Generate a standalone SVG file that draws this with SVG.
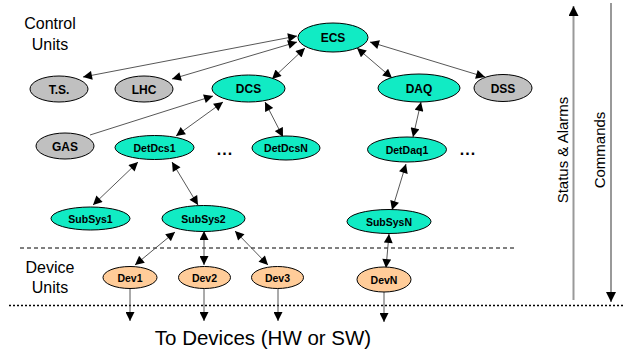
<svg xmlns="http://www.w3.org/2000/svg" width="623" height="352" viewBox="0 0 623 352">
<style>
.n ellipse{stroke:#000;stroke-width:1}
.cy ellipse{fill:#11EBC4}
.gr ellipse{fill:#C0C0C0}
.or ellipse{fill:#FFCC99}
.n text{font-family:"Liberation Sans",Arial,sans-serif;font-weight:bold;text-anchor:middle;fill:#000}
.big text{font-size:12px}
.sm text{font-size:10.5px}
.lbl{font-family:"Liberation Sans",Arial,sans-serif;fill:#000}
.c line{stroke:#444;stroke-width:0.9;fill:none}
.dbl{marker-start:url(#ah);marker-end:url(#ah)}
.one{marker-end:url(#ah)}
</style>
<defs>
<marker id="ah" viewBox="0 0 10 10" refX="10" refY="5" markerWidth="10" markerHeight="9" markerUnits="userSpaceOnUse" orient="auto-start-reverse">
<path d="M0,0 L10,5 L0,10 z" fill="#000"/>
</marker>
<marker id="ah2" viewBox="0 0 10 10" refX="10" refY="5" markerWidth="10" markerHeight="10" markerUnits="userSpaceOnUse" orient="auto">
<path d="M0,0 L10,5 L0,10 z" fill="#000"/>
</marker>
</defs>

<rect width="623" height="352" fill="#fff"/>

<g id="separators">
<line x1="20" y1="248" x2="517" y2="248" stroke="#000" stroke-width="1" stroke-dasharray="4,3"/>
<line x1="9" y1="305.5" x2="623" y2="305.5" stroke="#000" stroke-width="1.5" stroke-dasharray="2,2"/>
<line x1="573.5" y1="300" x2="573.5" y2="6" stroke="#999" stroke-width="2" marker-end="url(#ah2)"/>
<line x1="611" y1="3" x2="611" y2="302" stroke="#999" stroke-width="2" marker-end="url(#ah2)"/>
</g>

<g id="labels">
<text class="lbl" x="50" y="29" font-size="16" text-anchor="middle">Control</text>
<text class="lbl" x="50" y="50" font-size="16" text-anchor="middle">Units</text>
<text class="lbl" x="50" y="273" font-size="16" text-anchor="middle">Device</text>
<text class="lbl" x="50" y="293" font-size="16" text-anchor="middle">Units</text>
<text class="lbl" x="263" y="345" font-size="20.5" text-anchor="middle">To Devices (HW or SW)</text>
<text class="lbl" font-size="15" text-anchor="middle" transform="translate(568,150) rotate(-90)">Status &amp; Alarms</text>
<text class="lbl" font-size="15" text-anchor="middle" transform="translate(605,150) rotate(-90)">Commands</text>
<text class="lbl" x="225" y="155" font-size="16" font-weight="bold" text-anchor="middle" letter-spacing="1">...</text>
<text class="lbl" x="468" y="155" font-size="16" font-weight="bold" text-anchor="middle" letter-spacing="1">...</text>
</g>

<g id="connectors" class="c">
<line class="dbl" x1="297" y1="36" x2="83" y2="77"/>
<line class="dbl" x1="297" y1="42" x2="172" y2="79"/>
<line class="dbl" x1="305" y1="48" x2="272" y2="79"/>
<line class="one" x1="90" y1="135" x2="213" y2="96"/>
<line class="dbl" x1="223" y1="102" x2="176" y2="136"/>
<line class="dbl" x1="265" y1="102" x2="283" y2="137"/>
<line class="dbl" x1="357" y1="48" x2="392" y2="78"/>
<line class="dbl" x1="370" y1="42" x2="485" y2="77"/>
<line class="dbl" x1="421" y1="102" x2="413" y2="137"/>
<line class="dbl" x1="138" y1="162" x2="93" y2="205"/>
<line class="dbl" x1="172" y1="162" x2="198" y2="205"/>
<line class="dbl" x1="406" y1="164" x2="392" y2="210"/>
<line class="dbl" x1="175" y1="232" x2="135" y2="265"/>
<line class="dbl" x1="204" y1="231" x2="204" y2="265"/>
<line class="dbl" x1="235" y1="231" x2="268" y2="265"/>
<line class="dbl" x1="389" y1="234" x2="386" y2="268"/>
<line class="one" x1="130" y1="288" x2="130" y2="321"/>
<line class="one" x1="204" y1="288" x2="204" y2="321"/>
<line class="one" x1="278" y1="288" x2="278" y2="321"/>
<line class="one" x1="384" y1="292" x2="384" y2="322"/>
</g>

<g id="ECS" class="n cy big"><ellipse cx="333" cy="37.5" rx="35" ry="14.5"/><text x="333" y="42">ECS</text></g>
<g id="TS" class="n gr big"><ellipse cx="59" cy="89" rx="29" ry="13"/><text x="59" y="93.5">T.S.</text></g>
<g id="LHC" class="n gr big"><ellipse cx="144" cy="89" rx="29" ry="13"/><text x="144" y="93.5">LHC</text></g>
<g id="DCS" class="n cy big"><ellipse cx="248.5" cy="88.5" rx="36.5" ry="13.5"/><text x="248.5" y="93">DCS</text></g>
<g id="DAQ" class="n cy big"><ellipse cx="419" cy="88" rx="41" ry="14"/><text x="419" y="92.5">DAQ</text></g>
<g id="DSS" class="n gr big"><ellipse cx="503" cy="88" rx="29" ry="13.5"/><text x="503" y="92.5">DSS</text></g>
<g id="GAS" class="n gr big"><ellipse cx="65" cy="146" rx="29" ry="13"/><text x="65" y="150.5">GAS</text></g>
<g id="DetDcs1" class="n cy sm"><ellipse cx="154.5" cy="147.5" rx="39.5" ry="12"/><text x="154.5" y="151.5">DetDcs1</text></g>
<g id="DetDcsN" class="n cy sm"><ellipse cx="286" cy="148" rx="34" ry="12"/><text x="286" y="152">DetDcsN</text></g>
<g id="DetDaq1" class="n cy sm"><ellipse cx="407" cy="149.5" rx="39.5" ry="12.5"/><text x="407" y="153.5">DetDaq1</text></g>
<g id="SubSys1" class="n cy sm"><ellipse cx="90.5" cy="218.5" rx="39.5" ry="11.5"/><text x="90.5" y="222.5">SubSys1</text></g>
<g id="SubSys2" class="n cy sm"><ellipse cx="203.5" cy="218.5" rx="41.5" ry="13"/><text x="203.5" y="222.5">SubSys2</text></g>
<g id="SubSysN" class="n cy sm"><ellipse cx="389" cy="221.5" rx="42" ry="12"/><text x="389" y="225.5">SubSysN</text></g>
<g id="Dev1" class="n or sm"><ellipse cx="130" cy="277.5" rx="27" ry="11"/><text x="130" y="281.5">Dev1</text></g>
<g id="Dev2" class="n or sm"><ellipse cx="204.5" cy="277.5" rx="26" ry="11"/><text x="204.5" y="281.5">Dev2</text></g>
<g id="Dev3" class="n or sm"><ellipse cx="277.5" cy="277.5" rx="26" ry="11"/><text x="277.5" y="281.5">Dev3</text></g>
<g id="DevN" class="n or sm"><ellipse cx="384" cy="279.5" rx="27" ry="12.5"/><text x="384" y="283.5">DevN</text></g>
</svg>
